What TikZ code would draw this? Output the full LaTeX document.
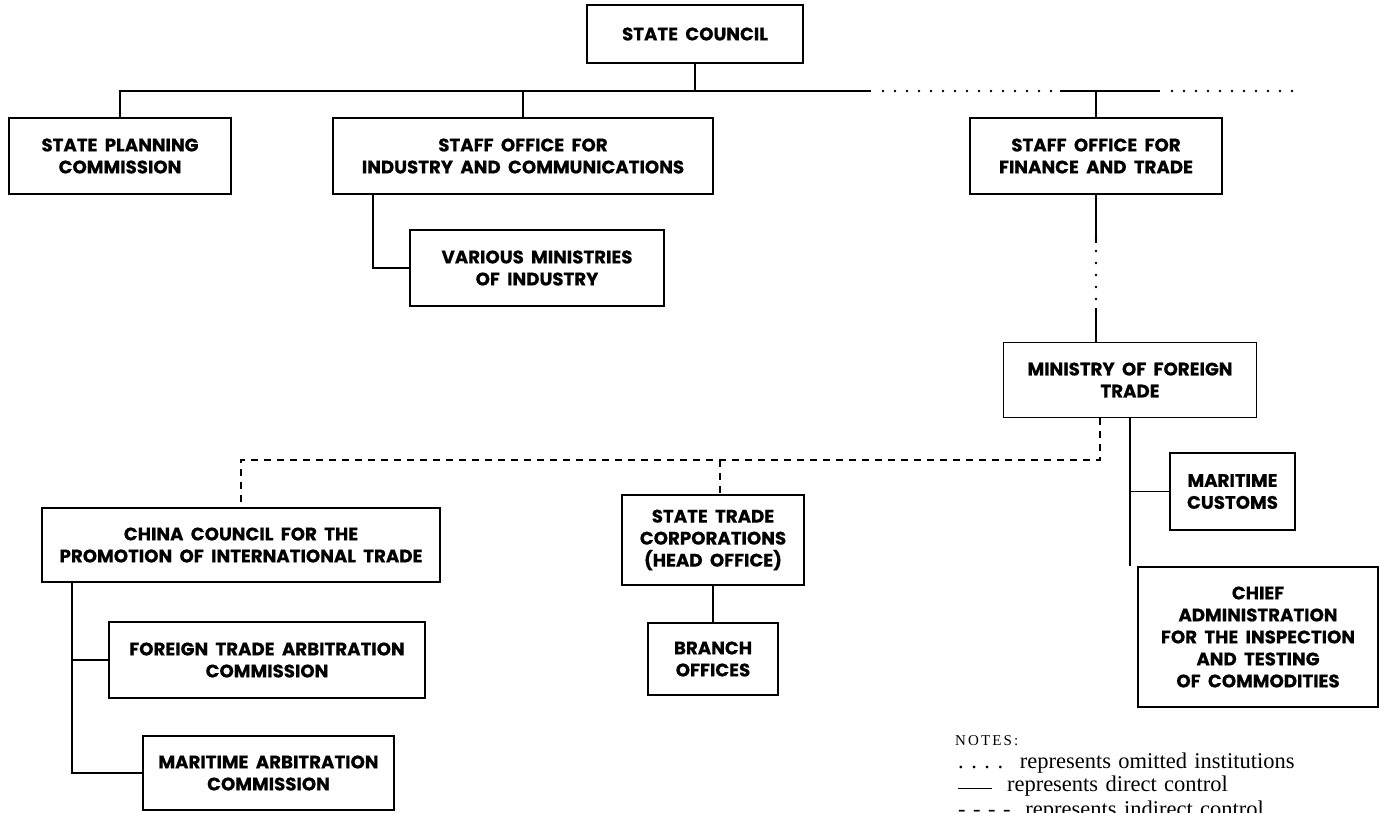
\documentclass[tikz,border=0pt]{standalone}
\usepackage{fontspec}
\newfontfamily\boxfont{Poppins}[WordSpace=1.9, BoldFeatures={FakeBold=0.5}]
\newfontfamily\notefont{Liberation Serif}[WordSpace=1.3]
\begin{document}
\begin{tikzpicture}[x=1pt,y=-1pt,
  obox/.style={draw, line width=1.8pt, font=\boxfont\bfseries\fontsize{18.2}{22}\selectfont, align=center, inner sep=0pt},
  conn/.style={line width=1.8pt},
  dotline/.style={line width=2.7pt, line cap=round, dash pattern=on 0pt off 12pt},
  dashline/.style={line width=2.5pt, dash pattern=on 7pt off 6pt},
  note/.style={font=\notefont\fontsize{22.5}{23}\selectfont, inner sep=0pt, anchor=base west}]
\useasboundingbox (0,0) rectangle (1380,812);
\clip (0,0) rectangle (1380,812);
% boxes
\node[obox, minimum width=216pt, minimum height=58pt] (sc) at (695,34) {STATE COUNCIL};
\node[obox, minimum width=222pt, minimum height=76pt] (spc) at (120,156) {STATE PLANNING\\COMMISSION};
\node[obox, minimum width=380pt, minimum height=76pt] (sfi) at (523,156) {STAFF OFFICE FOR\\INDUSTRY AND COMMUNICATIONS};
\node[obox, minimum width=254pt, minimum height=76pt] (vmi) at (537,268) {VARIOUS MINISTRIES\\OF INDUSTRY};
\node[obox, minimum width=252pt, minimum height=76pt] (sff) at (1096,156) {STAFF OFFICE FOR\\FINANCE AND TRADE};
\node[obox, minimum width=253pt, minimum height=75pt] (mft) at (1130,380) {MINISTRY OF FOREIGN\\TRADE};
\node[obox, minimum width=182pt, minimum height=90pt] (stc) at (713,540) {STATE TRADE\\CORPORATIONS\\(HEAD OFFICE)};
\node[obox, minimum width=130pt, minimum height=72pt] (bro) at (713,659) {BRANCH\\OFFICES};
\node[obox, minimum width=398pt, minimum height=74pt] (ccp) at (241,545) {CHINA COUNCIL FOR THE\\PROMOTION OF INTERNATIONAL TRADE};
\node[obox, minimum width=316pt, minimum height=76pt] (fta) at (267,660) {FOREIGN TRADE ARBITRATION\\COMMISSION};
\node[obox, minimum width=251pt, minimum height=74pt] (mac) at (268.5,773) {MARITIME ARBITRATION\\COMMISSION};
\node[obox, minimum width=125pt, minimum height=77pt] (mcu) at (1232.5,491.5) {MARITIME\\CUSTOMS};
\node[obox, minimum width=240pt, minimum height=140pt] (cai) at (1258,637) {CHIEF\\ADMINISTRATION\\FOR THE INSPECTION\\AND TESTING\\OF COMMODITIES};
% main horizontal line
\coordinate (m1) at (120,91);
\coordinate (m2) at (871,91);
\coordinate (m2b) at (883,91);
\coordinate (m3) at (1060,91);
\coordinate (m4) at (1160,91);
\coordinate (m4b) at (1172,91);
\coordinate (m5) at (1300,91);
\draw[conn] (spc.north) -- (spc.north |- m1) -- (m2);
\draw[conn] (sc.south) -- (sc.south |- m1);
\draw[conn] (sfi.north) -- (sfi.north |- m1);
\draw[dotline] (m2b) -- (m3);
\draw[conn] (m3) -- (m4);
\draw[dotline] (m4b) -- (m5);
\draw[conn] (sff.north) -- (sff.north |- m1);
% industry -> various
\coordinate (iv) at (373,0);
\draw[conn] (sfi.south -| iv) |- (vmi.west);
% finance -> ministry
\coordinate (d1) at (1096,243);
\coordinate (d2) at (1096,312);
\draw[conn] (sff.south) -- (d1);
\draw[dotline] ([yshift=4pt]d1) -- (d2);
\draw[conn] ([yshift=4pt]d2) -- (d2 |- mft.north);
% ministry -> indirect control
\coordinate (k) at (1100,460);
\coordinate (kx) at (720,0);
\draw[dashline] (mft.south -| k) -- (k) -- (k -| ccp.north) -- (ccp.north);
\draw[dashline] (k -| kx) -- (kx |- stc.north);
\draw[conn] (stc.south) -- (bro.north);
% ccpit children
\coordinate (cv) at (72,0);
\draw[conn] (ccp.south -| cv) |- (mac.west);
\draw[conn] (cv |- fta.west) -- (fta.west);
% ministry children
\draw[conn] (mft.south) -- (mft.south |- cai.north);
\draw[conn] (mft.south |- mcu.west) -- (mcu.west);
% notes
\node[note, font=\notefont\fontsize{15}{16}\selectfont\addfontfeature{LetterSpace=14}] (nt) at (955,745) {NOTES:};
\node[note] (n1) at (958,768) {.\,\,.\,\,.\,\,.\,\, represents omitted institutions};
\node[note] (n2) at (958,791) {\rule[0.15ex]{34pt}{1pt}\,\, represents direct control};
\node[note] (n3) at (958,816) {-\,\,-\,\,-\,\,-\,\, represents indirect control};
\end{tikzpicture}
\end{document}
